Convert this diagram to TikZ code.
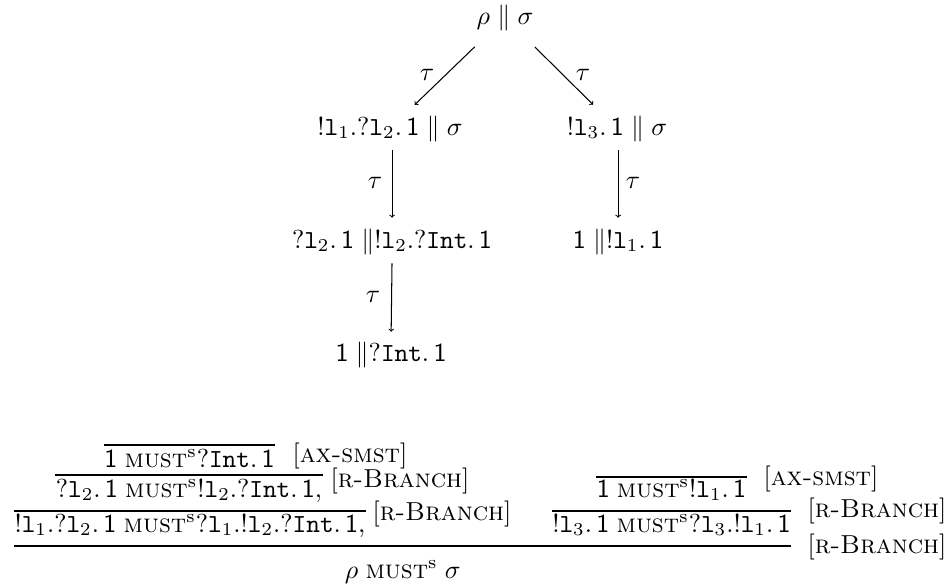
\documentclass[tikz,border=0pt]{standalone}
\usetikzlibrary{calc}

% notation
\newcommand{\one}{\mathsf{1}}
\newcommand{\lb}[1]{\mathtt{l}_{#1}}
\newcommand{\Int}{\mathtt{Int}}
\newcommand{\must}{\mathrel{\textsc{must}^{\mathrm{s}}}}
\newcommand{\rulelab}[1]{[\textsc{#1}]}

\begin{document}
% drawn at 10pt design size and enlarged 2.6 times; coordinates are in units of 1pt of the result
\begin{tikzpicture}[x=0.384615pt,y=-0.384615pt,scale=2.6,
  every node/.style={transform shape, font=\normalsize},
  state/.style={inner sep=1.27pt, text height=7.5pt, text depth=2.5pt, anchor=base},
  judg/.style={inner sep=0pt, anchor=base},
  rlab/.style={inner sep=0pt, anchor=base west},
  tlab/.style={inner sep=0pt},
  step arrow/.style={->, line width=1.04pt},
  infer/.style={line width=1.04pt}]
\useasboundingbox (0,0) rectangle (952,583);

% ---- reduction tree ----
\node[state] (top) at (505,24) {$\rho \parallel \sigma$};
\node[state] (a1) at (390,135) {$!\lb{1}.?\lb{2}.\,\one \parallel \sigma$};
\node[state] (b1) at (617,135) {$!\lb{3}.\,\one \parallel \sigma$};
\node[state] (a2) at (392,248) {$?\lb{2}.\,\one \parallel !\lb{2}.?\Int.\,\one$};
\node[state] (b2) at (618,248) {$\one \parallel !\lb{1}.\,\one$};
\node[state] (a3) at (391,361) {$\one \parallel ?\Int.\,\one$};

\draw[step arrow, shorten <=18pt, shorten >=10pt] (top) -- (a1);
\draw[step arrow, shorten <=18pt, shorten >=10pt] (top) -- (b1);
\draw[step arrow, shorten <=5pt, shorten >=7pt] (a1.south -| a2) -- (a2.north);
\draw[step arrow, shorten <=5pt, shorten >=7pt] (b1.south -| b2) -- (b2.north);
\draw[step arrow, shorten <=5pt, shorten >=6pt] (a2.south) -- (a3.north);

\node[tlab] (ta) at (427,75) {$\tau$};
\node[tlab] (tb) at (583,75) {$\tau$};
\node[tlab] (tc) at (375,183) {$\tau$};
\node[tlab] (td) at (633,183) {$\tau$};
\node[tlab] (te) at (373,297) {$\tau$};

% ---- derivation ----
\node[judg] (p1) at (189.5,467) {$\one \must ?\Int.\,\one$};
\node[judg] (p2) at (189,497) {$?\lb{2}.\,\one \must !\lb{2}.?\Int.\,\one,$};
\node[judg] (p3) at (190,532) {$!\lb{1}.?\lb{2}.\,\one \must ?\lb{1}.!\lb{2}.?\Int.\,\one,$};
\node[judg] (q1) at (671.5,497) {$\one \must !\lb{1}.\,\one$};
\node[judg] (q2) at (671.5,532) {$!\lb{3}.\,\one \must ?\lb{3}.!\lb{1}.\,\one$};

\draw[infer] (p1.west |- 0,445) -- (p1.east |- 0,445);
\draw[infer] (p2.west |- 0,475) -- (p2.east |- 0,475);
\draw[infer] (p3.west |- 0,511) -- (p3.east |- 0,511);
\draw[infer] (q1.west |- 0,477) -- (q1.east |- 0,477);
\draw[infer] (q2.west |- 0,511) -- (q2.east |- 0,511);
\draw[infer] (p3.west |- 0,546) coordinate (l4a) -- (q2.east |- 0,546) coordinate (l4b);
\node[judg] (goal) at ($(l4a)!0.5!(l4b)+(0,32)$) {$\rho \must \sigma$};

\node[rlab] (r1) at (292,462) {\rulelab{ax-smst}};
\node[rlab] (r2) at (330,487) {\rulelab{r-Branch}};
\node[rlab] (r3) at (372,520) {\rulelab{r-Branch}};
\node[rlab] (r4) at (763,485) {\rulelab{ax-smst}};
\node[rlab] (r5) at (807,517) {\rulelab{r-Branch}};
\node[rlab] (r6) at (807,553) {\rulelab{r-Branch}};
\end{tikzpicture}
\end{document}
